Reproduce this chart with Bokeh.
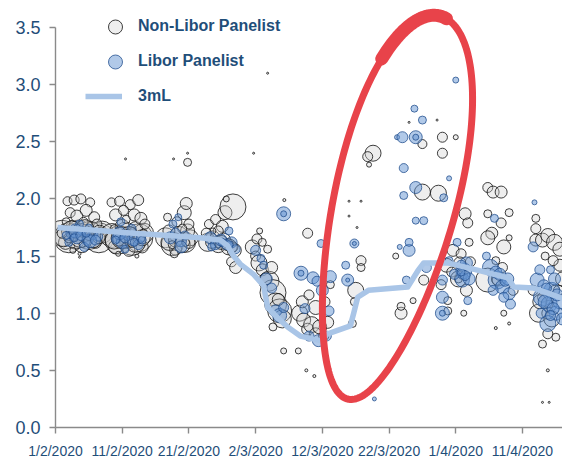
import numpy as np
from bokeh.plotting import figure
from bokeh.models import Range1d, FixedTicker, Legend, LegendItem, PrintfTickFormatter
from bokeh.embed import file_html
from bokeh.resources import INLINE

# ---- axis ticks (x = days since 1/2/2020) ----
tick_days = [0, 10, 20, 30, 40, 50, 60, 70]
tick_labels = ["1/2/2020", "11/2/2020", "21/2/2020", "2/3/2020",
               "12/3/2020", "22/3/2020", "1/4/2020", "11/4/2020"]
y_ticks = [0.0, 0.5, 1.0, 1.5, 2.0, 2.5, 3.0, 3.5]

# ---- 3m Libor fixing ----
libor3m_day = [0.3, 5, 11.7, 17, 21.7, 24.7, 25.8, 26.7, 27.7, 29.7, 31.2, 31.8, 33.3, 34.8,
               36.7, 39.7, 40.8, 44.2, 44.7, 45.3, 46.9, 52.8, 54.3, 55.2, 58.8, 63.7, 67.8,
               68.7, 71.7, 76]
libor3m_rate = [1.75, 1.73, 1.70, 1.68, 1.66, 1.64, 1.59, 1.50, 1.43, 1.34, 1.24, 1.05, 0.96, 0.88,
                0.80, 0.76, 0.82, 0.89, 1.00, 1.14, 1.20, 1.23, 1.37, 1.44, 1.44, 1.37, 1.31,
                1.23, 1.22, 1.13]

# ---- submissions: (day, rate, bubble size) ----
non_libor = [
    # week of 3 Feb
    (1.0, 1.70, 26), (2.0, 1.66, 30), (3.5, 1.72, 22), (5.0, 1.68, 28), (6.5, 1.66, 30), (7.0, 1.71, 22),
    (1.5, 1.62, 14), (2.5, 1.76, 12), (4.0, 1.60, 16), (5.5, 1.74, 14), (6.0, 1.62, 12), (3.0, 1.64, 18),
    (1.8, 1.98, 9), (2.8, 1.99, 10), (3.8, 2.00, 10), (5.2, 1.97, 9),
    (2.2, 1.88, 10), (3.2, 1.85, 12), (4.6, 1.90, 12), (5.8, 1.84, 11),
    (1.6, 1.80, 8), (4.2, 1.80, 9), (6.2, 1.78, 10),
    (2.6, 1.55, 6), (3.6, 1.52, 3), (3.6, 1.49, 2), (1.4, 1.74, 6), (6.8, 1.72, 8), (4.6, 1.66, 8), (2.8, 1.68, 6),
    (1.2, 1.66, 18), (2.4, 1.72, 20), (3.8, 1.68, 24), (4.4, 1.74, 18), (5.6, 1.66, 20), (6.6, 1.70, 16),
    (2.0, 1.66, 10), (3.5, 1.72, 8), (5.0, 1.68, 10), (6.5, 1.66, 12), (4.0, 1.60, 6), (1.0, 1.70, 10),
    # week of 10 Feb
    (8.5, 1.68, 24), (9.5, 1.64, 28), (10.5, 1.70, 22), (11.5, 1.62, 26), (12.5, 1.66, 28), (13.2, 1.70, 20),
    (9.0, 1.58, 14), (10.0, 1.76, 14), (11.0, 1.55, 12), (12.0, 1.74, 14), (13.0, 1.58, 12), (10.8, 1.64, 16),
    (8.4, 1.97, 9), (9.6, 1.98, 10), (11.2, 1.95, 10), (12.4, 1.99, 11),
    (9.0, 1.86, 12), (10.2, 1.90, 10), (11.8, 1.86, 12), (12.8, 1.83, 12), (10.6, 1.82, 8),
    (9.4, 1.52, 5), (12.2, 1.50, 4), (13.4, 1.78, 10), (8.8, 1.74, 8), (11.6, 1.72, 7),
    (8.8, 1.64, 18), (10.0, 1.66, 22), (11.0, 1.68, 18), (12.0, 1.62, 20), (13.0, 1.66, 16),
    (9.5, 1.64, 12), (11.5, 1.62, 10), (12.5, 1.66, 12), (10.5, 1.70, 8), (13.2, 1.70, 8),
    (10.5, 2.35, 2),
    # week of 18 Feb
    (16.5, 1.66, 20), (17.5, 1.60, 22), (18.5, 1.68, 18), (19.5, 1.62, 20), (20.2, 1.66, 16),
    (17.0, 1.72, 12), (18.0, 1.56, 12), (19.8, 1.72, 14), (16.8, 1.84, 8), (18.2, 1.80, 10),
    (19.3, 1.88, 14), (19.6, 1.96, 12), (20.0, 1.78, 10), (19.0, 1.74, 9), (17.8, 1.52, 8),
    (17.0, 1.62, 16), (18.0, 1.64, 14), (19.0, 1.60, 16), (20.0, 1.62, 12), (17.5, 1.60, 8), (19.5, 1.62, 8),
    (19.8, 2.32, 8), (19.8, 2.40, 2), (17.7, 2.35, 2),
    # week of 24 Feb
    (22.8, 1.62, 18), (23.6, 1.66, 14), (24.4, 1.60, 16), (25.2, 1.64, 14), (26.0, 1.58, 16), (26.8, 1.55, 14),
    (23.0, 1.78, 9), (24.0, 1.82, 10), (25.0, 1.76, 12), (25.4, 1.88, 14), (26.6, 1.93, 26), (24.4, 1.72, 10),
    (26.4, 1.45, 10), (27.0, 1.40, 12), (23.6, 1.72, 6), (25.6, 2.00, 6), (22.6, 1.70, 10), (29.7, 2.40, 2),
    (23.4, 1.62, 12), (24.8, 1.62, 14), (25.8, 1.60, 12), (26.6, 1.58, 10), (24.4, 1.60, 6),
    # week of 2 Mar
    (29.5, 1.58, 14), (30.0, 1.50, 10), (30.5, 1.44, 16), (31.0, 1.38, 12), (30.2, 1.65, 10), (31.0, 1.62, 8),
    (31.8, 1.56, 8), (32.0, 1.28, 20), (32.6, 1.18, 26), (33.0, 1.08, 22), (33.6, 1.02, 24), (34.0, 0.95, 18),
    (31.5, 1.30, 12), (32.4, 1.40, 12), (33.4, 1.12, 12), (30.6, 1.72, 6), (34.2, 0.67, 6), (32.6, 0.88, 8),
    (34.3, 1.99, 3), (31.8, 3.10, 2),
    # week of 9 Mar
    (36.6, 1.00, 16), (37.2, 0.94, 14), (37.8, 0.86, 12), (38.4, 0.90, 16), (39.0, 0.82, 12), (39.6, 0.88, 14),
    (40.2, 0.80, 10), (40.8, 0.92, 12), (37.0, 1.10, 12), (38.0, 1.16, 10), (39.0, 1.05, 14), (40.4, 1.10, 10),
    (37.8, 1.70, 10), (36.4, 0.67, 6), (37.6, 0.50, 3), (38.8, 0.45, 3), (41.2, 1.25, 8),
    # week of 16 Mar
    (45.0, 1.20, 16), (45.8, 1.46, 10), (45.8, 1.40, 8), (44.8, 1.10, 8), (44.5, 0.91, 8), (47.6, 2.40, 16),
    (46.8, 2.37, 10), (47.0, 2.30, 5), (44.0, 1.98, 2), (45.8, 1.98, 2), (44.0, 1.85, 2), (45.2, 1.75, 2),
    # week of 23 Mar
    (55.0, 2.48, 9), (55.0, 2.06, 16), (58.0, 2.54, 10), (58.0, 2.40, 10), (60.0, 2.54, 5), (51.8, 1.00, 12),
    (51.8, 1.06, 8), (53.6, 1.11, 6), (55.2, 1.29, 10), (51.0, 1.50, 6), (57.2, 2.69, 2), (53.0, 2.67, 2),
    # week of 30 Mar
    (57.4, 2.05, 16), (61.4, 1.87, 12), (61.8, 1.79, 10), (59.6, 1.55, 12), (60.8, 1.52, 10), (58.6, 1.42, 14),
    (59.4, 1.36, 10), (60.4, 1.30, 16), (61.6, 1.20, 12), (58.8, 1.11, 8), (58.8, 1.02, 8), (61.2, 1.00, 6),
    (62.2, 1.45, 10), (62.0, 1.62, 8), (57.8, 1.25, 10), (60.6, 1.44, 12), (61.0, 1.34, 10), (60.4, 1.30, 8),
    # week of 6 Apr
    (64.8, 2.10, 10), (65.6, 2.06, 12), (66.8, 2.06, 12), (64.8, 1.87, 8), (65.4, 1.70, 12), (66.8, 1.79, 10),
    (68.0, 1.88, 8), (67.2, 1.58, 14), (68.0, 1.66, 6), (64.8, 1.29, 24), (64.8, 1.66, 14), (67.0, 1.40, 10),
    (66.0, 1.46, 8), (67.2, 1.00, 6), (66.0, 0.87, 3), (68.0, 0.91, 3), (68.6, 1.20, 10), (66.4, 1.30, 14),
    (66.2, 1.29, 10),
    # week of 13 Apr
    (72.0, 1.83, 8), (72.0, 1.74, 10), (72.0, 1.64, 12), (73.0, 1.64, 14), (73.8, 1.68, 14), (74.8, 1.62, 16),
    (75.6, 1.56, 14), (75.6, 1.42, 12), (72.4, 1.00, 18), (73.0, 0.73, 8), (73.8, 0.82, 10), (75.0, 0.79, 8),
    (73.8, 0.50, 3), (73.0, 0.22, 2), (74.0, 0.22, 2), (76.0, 1.30, 14), (73.4, 1.50, 8), (74.6, 1.46, 10),
    (71.6, 1.20, 10), (74.4, 0.95, 16), (73.0, 1.14, 10), (74.0, 1.08, 8), (74.8, 1.20, 10), (73.8, 1.00, 12),
    (72.6, 1.10, 14), (75.4, 1.20, 10),
]

libor = [
    (2.3, 1.70, 10), (3.2, 1.66, 12), (4.0, 1.72, 9), (4.8, 1.64, 11), (5.6, 1.69, 10), (6.4, 1.67, 9),
    (3.6, 1.78, 8), (2.0, 1.62, 8), (4.3, 1.58, 9), (5.0, 1.75, 7), (3.0, 1.72, 14), (5.2, 1.63, 13),
    (2.8, 1.66, 8), (3.8, 1.68, 10), (4.6, 1.70, 8), (6.0, 1.64, 10), (1.6, 1.68, 8),
    (9.2, 1.66, 10), (10.0, 1.62, 12), (10.8, 1.68, 10), (11.6, 1.64, 11), (12.4, 1.60, 10), (9.8, 1.80, 8),
    (11.4, 1.74, 9), (12.8, 1.66, 9), (10.4, 1.56, 8), (9.6, 1.70, 13),
    (9.0, 1.64, 8), (10.4, 1.66, 10), (11.8, 1.62, 8), (13.0, 1.64, 8),
    (17.2, 1.66, 12), (18.0, 1.70, 10), (18.8, 1.63, 11), (19.4, 1.68, 9), (17.6, 1.78, 8), (18.4, 1.84, 7),
    (18.8, 1.58, 12),
    (23.2, 1.66, 12), (24.0, 1.60, 10), (24.8, 1.64, 12), (25.6, 1.60, 10), (26.4, 1.62, 11), (27.0, 1.56, 9),
    (26.0, 1.72, 8), (23.4, 1.58, 8), (25.0, 1.62, 8), (26.0, 1.60, 8),
    (30.0, 1.55, 10), (30.8, 1.48, 8), (31.6, 1.30, 12), (32.4, 1.22, 10), (33.0, 1.02, 12), (33.6, 0.98, 14),
    (34.2, 1.05, 10), (34.2, 1.87, 14), (34.2, 1.87, 6), (31.2, 1.42, 8),
    (36.8, 1.35, 14), (36.8, 1.35, 6), (38.6, 1.31, 12), (39.8, 1.61, 8), (39.2, 1.28, 10), (38.0, 0.80, 10),
    (39.4, 0.76, 12), (40.6, 0.80, 10), (41.0, 1.02, 10), (40.0, 1.20, 12), (41.2, 1.32, 12), (37.4, 1.04, 10),
    (43.8, 1.29, 12), (43.8, 1.29, 4), (44.8, 1.61, 9), (44.8, 1.61, 4), (47.8, 0.25, 4), (43.5, 1.42, 8),
    (51.2, 2.54, 5), (52.0, 2.54, 11), (54.0, 2.54, 13), (54.0, 2.54, 6), (53.8, 2.79, 7), (55.0, 2.69, 8),
    (52.2, 2.27, 9), (54.0, 2.10, 12), (52.2, 2.03, 8), (54.0, 1.81, 7), (53.0, 1.55, 12), (53.0, 1.62, 8),
    (51.6, 1.58, 5), (55.2, 1.81, 8), (60.0, 3.04, 6), (55.6, 1.40, 10), (52.6, 1.29, 8),
    (58.2, 2.01, 8), (59.0, 2.18, 5), (58.0, 1.29, 10), (58.0, 1.14, 12), (58.0, 1.00, 14), (58.0, 1.00, 6),
    (61.2, 1.37, 16), (61.0, 1.29, 14), (61.6, 1.44, 12), (60.8, 1.42, 10), (61.8, 1.11, 8), (59.8, 1.34, 10),
    (62.0, 1.30, 12), (60.2, 1.62, 8), (59.0, 1.46, 8), (61.4, 1.33, 10), (60.8, 1.36, 8),
    (65.8, 1.83, 8), (65.2, 1.40, 16), (66.2, 1.29, 18), (67.0, 1.23, 14), (68.0, 1.17, 12), (68.2, 1.08, 10),
    (67.2, 1.14, 10), (66.0, 1.36, 12), (65.6, 1.20, 10), (67.8, 1.30, 12), (64.6, 1.50, 8),
    (66.6, 1.34, 12), (67.4, 1.28, 10),
    (71.8, 1.97, 5), (71.6, 1.58, 10), (72.2, 1.29, 14), (73.0, 1.14, 18), (74.0, 1.08, 16), (74.4, 1.20, 16),
    (75.0, 1.00, 14), (73.8, 0.91, 16), (73.2, 1.24, 12), (75.6, 1.10, 14), (74.8, 1.30, 12), (72.6, 1.38, 10),
    (76.0, 0.95, 12), (72.8, 1.00, 10), (74.2, 1.38, 8),
    (73.4, 1.10, 14), (74.6, 1.04, 12), (75.2, 1.16, 12), (73.6, 1.22, 10), (74.2, 0.98, 10),
]

# ---- layout ----
X0, X1 = 0, 76
FW, FH = 507, 423
PX_PER_UNIT = 400 / 3.5
Y0, Y1 = 0, FH / PX_PER_UNIT
LEFT, TOP = 55, 4
TEXT = "#1f4e79"
AXIS = "#8a8a8a"

p = figure(frame_width=FW, frame_height=FH, x_range=Range1d(X0, X1), y_range=Range1d(Y0, Y1),
           output_backend="svg", toolbar_location=None,
           min_border_left=LEFT, min_border_right=0, min_border_top=TOP, min_border_bottom=36)
p.outline_line_color = None
p.grid.visible = False
p.background_fill_color = "white"

p.xaxis.ticker = FixedTicker(ticks=tick_days)
p.xaxis.major_label_overrides = {d: l for d, l in zip(tick_days, tick_labels)}
p.yaxis.ticker = FixedTicker(ticks=y_ticks)
p.yaxis.formatter = PrintfTickFormatter(format="%.1f")
p.yaxis.bounds = (0, 3.5)
for ax in (p.xaxis, p.yaxis):
    ax.axis_line_color = AXIS
    ax.axis_line_width = 1.4
    ax.major_tick_line_color = AXIS
    ax.major_tick_line_width = 1.4
    ax.major_tick_in = 0
    ax.major_tick_out = 6
    ax.minor_tick_line_color = None
    ax.major_label_text_color = TEXT
p.yaxis.major_label_text_font = "Liberation Sans"
p.yaxis.major_label_text_font_size = "18px"
p.yaxis.major_label_standoff = 9
p.xaxis.major_label_text_font = "Liberation Sans"
p.xaxis.major_label_text_font_size = "14px"
p.xaxis.major_label_standoff = 9

nl_day, nl_rate, nl_size = [list(c) for c in zip(*non_libor)]
lb_day, lb_rate, lb_size = [list(c) for c in zip(*libor)]

r_nl = p.scatter(nl_day, nl_rate, size=nl_size, marker="circle",
                 fill_color="#cfcfcf", fill_alpha=0.35, line_color="#151515", line_alpha=0.82, line_width=1)
r_lb = p.scatter(lb_day, lb_rate, size=lb_size, marker="circle",
                 fill_color="#6494d2", fill_alpha=0.5, line_color="#22508e", line_alpha=0.78, line_width=1)

r_ln = p.line(libor3m_day, libor3m_rate, line_color="#a9c5e7", line_width=5.5, line_join="round")

# ---- red hand-drawn ellipse annotation (egg shaped, wider at the top) ----
sx = FW / (X1 - X0)
sy = PX_PER_UNIT
ell_cx, ell_cy = 50.7, 1.925
ell_a, ell_b, ell_tilt = 197.0, 61.0, np.radians(13.5)

def ellipse_pts(t):
    u = ell_a * np.sin(t)
    v = (ell_b + 8 * np.sin(t)) * np.cos(t)
    dx = u * np.sin(ell_tilt) + v * np.cos(ell_tilt)
    dy_down = -u * np.cos(ell_tilt) + v * np.sin(ell_tilt)
    return ell_cx + dx / sx, ell_cy - dy_down / sy

ex, ey = ellipse_pts(np.linspace(0, 2 * np.pi, 240))
p.line(ex, ey, line_color="#e8434a", line_width=7, line_cap="round", line_join="round")
tx, ty = ellipse_pts(np.linspace(np.radians(84), np.radians(134), 40))
p.line(tx, ty, line_color="#e8434a", line_width=13, line_cap="round", line_join="round")

# ---- legend ----
frame_bottom = TOP + FH
leg1 = Legend(items=[LegendItem(label="Non-Libor Panelist", renderers=[r_nl]),
                     LegendItem(label="Libor Panelist", renderers=[r_lb])],
              location=(94 - LEFT, frame_bottom - 78.5), glyph_width=42, glyph_height=35, spacing=0,
              label_standoff=2, padding=0, margin=0)
leg2 = Legend(items=[LegendItem(label="3mL", renderers=[r_ln])],
              location=(85 - LEFT, frame_bottom - 106), glyph_width=37, glyph_height=20,
              label_standoff=16, padding=0, margin=0)
for lg in (leg1, leg2):
    lg.background_fill_alpha = 0
    lg.border_line_alpha = 0
    lg.label_text_font = "Liberation Sans"
    lg.label_text_font_style = "bold"
    lg.label_text_font_size = "16px"
    lg.label_text_color = TEXT
    p.add_layout(lg, "center")

open("out.html", "w").write(file_html(p, INLINE))
